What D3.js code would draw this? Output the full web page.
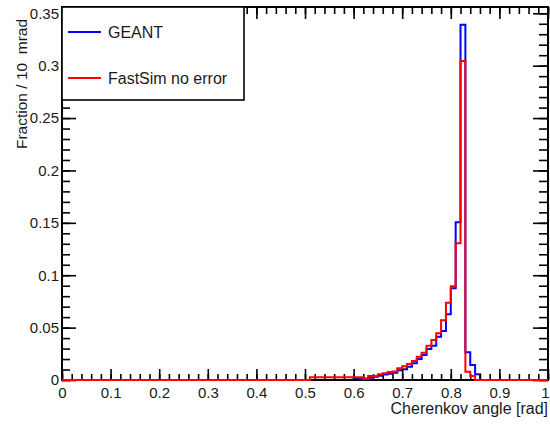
<!DOCTYPE html>
<html>
<head>
<meta charset="utf-8">
<script src="https://cdn.jsdelivr.net/npm/d3@7"></script>
<style>
  body { margin: 0; background: #fff; }
  text { font-family: Arial, "Liberation Sans", sans-serif; fill: #1a1a1a; }
</style>
</head>
<body>
<div id="chart"></div>
<script>
// low edges of the 10 mrad bins that hold entries (everything else is 0)
var binLow = [0.51, 0.52, 0.53, 0.54, 0.55, 0.56, 0.57, 0.58, 0.59, 0.60,
              0.61, 0.62, 0.63, 0.64, 0.65, 0.66, 0.67, 0.68, 0.69, 0.70,
              0.71, 0.72, 0.73, 0.74, 0.75, 0.76, 0.77, 0.78, 0.79, 0.80,
              0.81, 0.82, 0.83, 0.84, 0.85];
var binWidth = 0.01;

var geant = [0, 0, 0, 0, 0, 0, 0, 0, 0, 0.0012,
             0.0012, 0.0015, 0.0022, 0.003, 0.004, 0.0052, 0.006, 0.007, 0.0094, 0.0102,
             0.0127, 0.0159, 0.020, 0.0239, 0.0295, 0.0326, 0.0413, 0.0468, 0.0627, 0.0875,
             0.1505, 0.339, 0.0266, 0.0144, 0.0056];

var fastsim = [0.0026, 0.0026, 0.0026, 0.0026, 0.0026, 0.0026, 0.0026, 0.0026, 0.0026, 0.0026,
               0.0026, 0.0012, 0.0037, 0.0037, 0.0056, 0.0064, 0.0076, 0.0082, 0.0112, 0.0132,
               0.0153, 0.0181, 0.0223, 0.026, 0.0326, 0.0382, 0.0446, 0.057, 0.0738, 0.0895,
               0.1305, 0.3045, 0.0078, 0.0037, 0];

var legendNames = ["GEANT", "FastSim no error"];
var colors = ["#0000ff", "#ff0000"];

var xTicks = d3.range(0, 1.0001, 0.1);
var xMinor = d3.range(0, 1.0001, 0.02);
var yTicks = d3.range(0, 0.3501, 0.05);
var yMinor = d3.range(0, 0.3501, 0.01);

var W = 550, H = 424;
var margin = {top: 7, right: 2, bottom: 44, left: 62};
var width = W - margin.left - margin.right,
    height = H - margin.top - margin.bottom;

var svg = d3.select("#chart").append("svg")
    .attr("width", W)
    .attr("height", H);
var g = svg.append("g")
    .attr("transform", "translate(" + margin.left + "," + margin.top + ")");

var x = d3.scaleLinear().domain([0, 1]).range([0, width]);
var y = d3.scaleLinear().domain([0, 0.356]).range([height, 0]);

function stepPoints(vals) {
    var pts = [[0, 0]];
    binLow.forEach(function(b, i) { pts.push([b, vals[i]]); });
    pts.push([binLow[binLow.length - 1] + binWidth, 0]);
    pts.push([1, 0]);
    return pts;
}

var line = d3.line()
    .x(function(d) { return x(d[0]); })
    .y(function(d) { return y(d[1]); })
    .curve(d3.curveStepAfter);

// GEANT first, frame over it, FastSim on top
g.append("path")
    .datum(stepPoints(geant))
    .attr("fill", "none")
    .attr("stroke", colors[0])
    .attr("stroke-width", 2)
    .attr("d", line);

// frame
g.append("rect")
    .attr("width", width)
    .attr("height", height)
    .attr("fill", "none")
    .attr("stroke", "#000")
    .attr("stroke-width", 2);

function tickStyle(sel) {
    sel.select(".domain").remove();
    sel.selectAll(".tick line").attr("stroke", "#000").attr("stroke-width", 1.6);
    sel.selectAll(".tick text").style("font-size", "15px");
}

var fmt = function(d) { return d3.format("~g")(+d.toFixed(2)); };

// bottom axis
g.append("g")
    .attr("transform", "translate(0," + height + ")")
    .call(d3.axisBottom(x).tickValues(xMinor).tickSize(-6).tickFormat(""))
    .call(tickStyle);
var xb = g.append("g")
    .attr("transform", "translate(0," + height + ")")
    .call(d3.axisBottom(x).tickValues(xTicks).tickSize(-11).tickPadding(7).tickFormat(fmt))
    .call(tickStyle);
// last label sits right at the window edge
xb.selectAll(".tick text").filter(function(d) { return d > 0.99; })
    .attr("text-anchor", "end")
    .attr("x", 1);

// top axis
g.append("g")
    .call(d3.axisTop(x).tickValues(xMinor).tickSize(-7).tickFormat(""))
    .call(tickStyle);
g.append("g")
    .call(d3.axisTop(x).tickValues(xTicks).tickSize(-12).tickFormat(""))
    .call(tickStyle);

// left axis
g.append("g")
    .call(d3.axisLeft(y).tickValues(yMinor).tickSize(-8).tickFormat(""))
    .call(tickStyle);
g.append("g")
    .call(d3.axisLeft(y).tickValues(yTicks).tickSize(-14).tickPadding(3).tickFormat(fmt))
    .call(tickStyle);

// right axis
g.append("g")
    .attr("transform", "translate(" + width + ",0)")
    .call(d3.axisRight(y).tickValues(yMinor).tickSize(-9).tickFormat(""))
    .call(tickStyle);
g.append("g")
    .attr("transform", "translate(" + width + ",0)")
    .call(d3.axisRight(y).tickValues(yTicks).tickSize(-15).tickFormat(""))
    .call(tickStyle);

g.append("path")
    .datum(stepPoints(fastsim))
    .attr("fill", "none")
    .attr("stroke", colors[1])
    .attr("stroke-width", 2)
    .attr("d", line);

// axis titles
svg.append("text")
    .attr("x", margin.left + width)
    .attr("y", 414)
    .attr("text-anchor", "end")
    .style("font-size", "16px")
    .text("Cherenkov angle [rad]");

svg.append("text")
    .attr("transform", "translate(27,84) rotate(-90)")
    .attr("text-anchor", "middle")
    .style("font-size", "15.5px")
    .style("white-space", "pre")
    .text("Fraction / 10  mrad");

// legend
var leg = svg.append("g").attr("transform", "translate(" + margin.left + "," + margin.top + ")");
leg.append("rect")
    .attr("width", 182)
    .attr("height", 93)
    .attr("fill", "#fff")
    .attr("stroke", "#000")
    .attr("stroke-width", 1.6);

legendNames.forEach(function(name, i) {
    var ly = 25 + i * 46;
    leg.append("line")
        .attr("x1", 6).attr("x2", 39)
        .attr("y1", ly).attr("y2", ly)
        .attr("stroke", colors[i])
        .attr("stroke-width", 2);
    leg.append("text")
        .attr("x", 46)
        .attr("y", ly)
        .attr("dy", "0.36em")
        .style("font-size", "16px")
        .text(name);
});
</script>
</body>
</html>
